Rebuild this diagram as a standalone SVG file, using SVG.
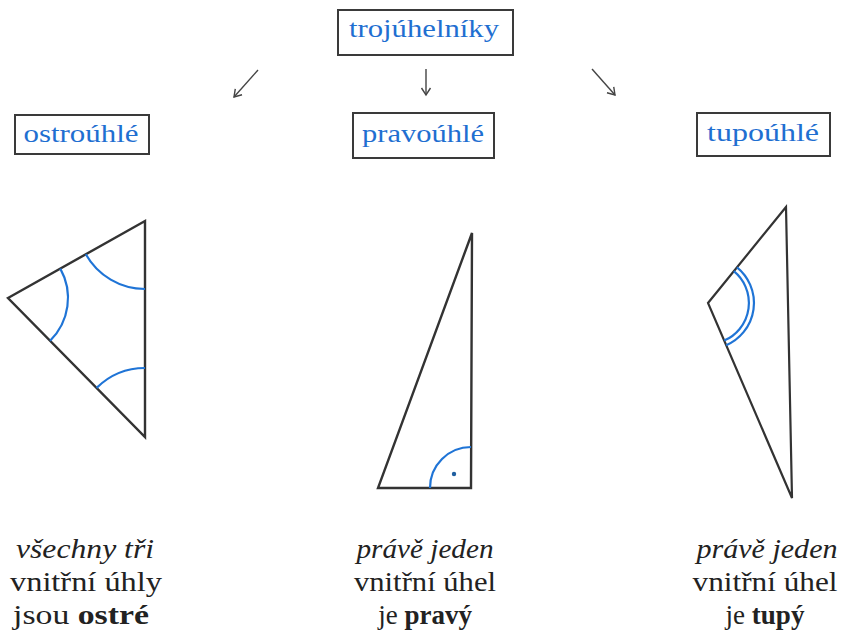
<svg xmlns="http://www.w3.org/2000/svg" width="847" height="636" viewBox="0 0 847 636">
<defs>
<style>
.box{fill:#fff;stroke:#3a3a3a;stroke-width:2}
.lbl{font-family:'Liberation Serif','DejaVu Serif',serif;font-size:25px;fill:#1f6fd1;text-anchor:middle}
.tri{fill:none;stroke:#333;stroke-width:2.4;stroke-linejoin:miter}
.arc{fill:none;stroke:#1f74d6;stroke-width:2.2}
.conn{fill:none;stroke:#444;stroke-width:1.4}
.txt{font-family:'Liberation Serif','DejaVu Serif',serif;font-size:27px;fill:#222;text-anchor:middle}
.it{font-style:italic}
.b{font-weight:bold}
</style>
<marker id="ah" viewBox="-10 -6 12 12" markerWidth="12" markerHeight="12" refX="0" refY="0" orient="auto" markerUnits="userSpaceOnUse">
<path d="M-7,-4.5 L0,0 L-7,4.5" fill="none" stroke="#444" stroke-width="1.4"/>
</marker>
</defs>
<rect width="847" height="636" fill="#fff"/>

<g id="trojuhelniky">
<rect class="box" x="338" y="10" width="175" height="45"/>
<text class="lbl" x="424" y="37" textLength="150" lengthAdjust="spacingAndGlyphs">trojúhelníky</text>
</g>

<g id="connectors">
<line class="conn" x1="258" y1="70" x2="234" y2="97" marker-end="url(#ah)"/>
<line class="conn" x1="426" y1="69" x2="426" y2="95" marker-end="url(#ah)"/>
<line class="conn" x1="592" y1="69" x2="615" y2="95" marker-end="url(#ah)"/>
</g>

<g id="ostrouhle">
<rect class="box" x="15" y="115" width="134" height="39"/>
<text class="lbl" x="81" y="142" textLength="115" lengthAdjust="spacingAndGlyphs">ostroúhlé</text>
</g>

<g id="pravouhle">
<rect class="box" x="353" y="113" width="141" height="45"/>
<text class="lbl" x="423" y="142" textLength="122" lengthAdjust="spacingAndGlyphs">pravoúhlé</text>
</g>

<g id="tupouhle">
<rect class="box" x="697" y="113" width="133" height="43"/>
<text class="lbl" x="763" y="141" textLength="112" lengthAdjust="spacingAndGlyphs">tupoúhlé</text>
</g>

<g id="acute-triangle">
<polygon class="tri" points="8,298 145,221 145,437"/>
<path class="arc" d="M85.8,254.3 A68,68 0 0 0 145,289"/>
<path class="arc" d="M60.3,268.6 A60,60 0 0 1 50.1,340.7"/>
<path class="arc" d="M96.6,387.9 A69,69 0 0 1 145,368"/>
</g>

<g id="right-triangle">
<polygon class="tri" points="472,233 378,488 471,488"/>
<path class="arc" d="M430,488 A41,41 0 0 1 471,447"/>
<circle cx="454" cy="474" r="2.2" fill="#1f5fa0"/>
</g>

<g id="obtuse-triangle">
<polygon class="tri" points="786,207 708,303 792,498" style="stroke-width:2.2"/>
<path class="arc" d="M733.8,271.2 A41,41 0 0 1 724.2,340.6"/>
<path class="arc" d="M737,267.3 A46,46 0 0 1 726.2,345.2"/>
</g>

<g id="text-acute">
<text class="txt it" x="85" y="558" textLength="138" lengthAdjust="spacingAndGlyphs">všechny tři</text>
<text class="txt" x="86" y="591" textLength="152" lengthAdjust="spacingAndGlyphs">vnitřní úhly</text>
<text class="txt" x="81" y="624" textLength="136" lengthAdjust="spacingAndGlyphs">jsou <tspan class="b">ostré</tspan></text>
</g>

<g id="text-right">
<text class="txt it" x="425" y="558" textLength="137" lengthAdjust="spacingAndGlyphs">právě jeden</text>
<text class="txt" x="425" y="591" textLength="142" lengthAdjust="spacingAndGlyphs">vnitřní úhel</text>
<text class="txt" x="425" y="624">je <tspan class="b">pravý</tspan></text>
</g>

<g id="text-obtuse">
<text class="txt it" x="767" y="558" textLength="141" lengthAdjust="spacingAndGlyphs">právě jeden</text>
<text class="txt" x="765" y="591" textLength="145" lengthAdjust="spacingAndGlyphs">vnitřní úhel</text>
<text class="txt" x="765" y="624">je <tspan class="b">tupý</tspan></text>
</g>
</svg>
